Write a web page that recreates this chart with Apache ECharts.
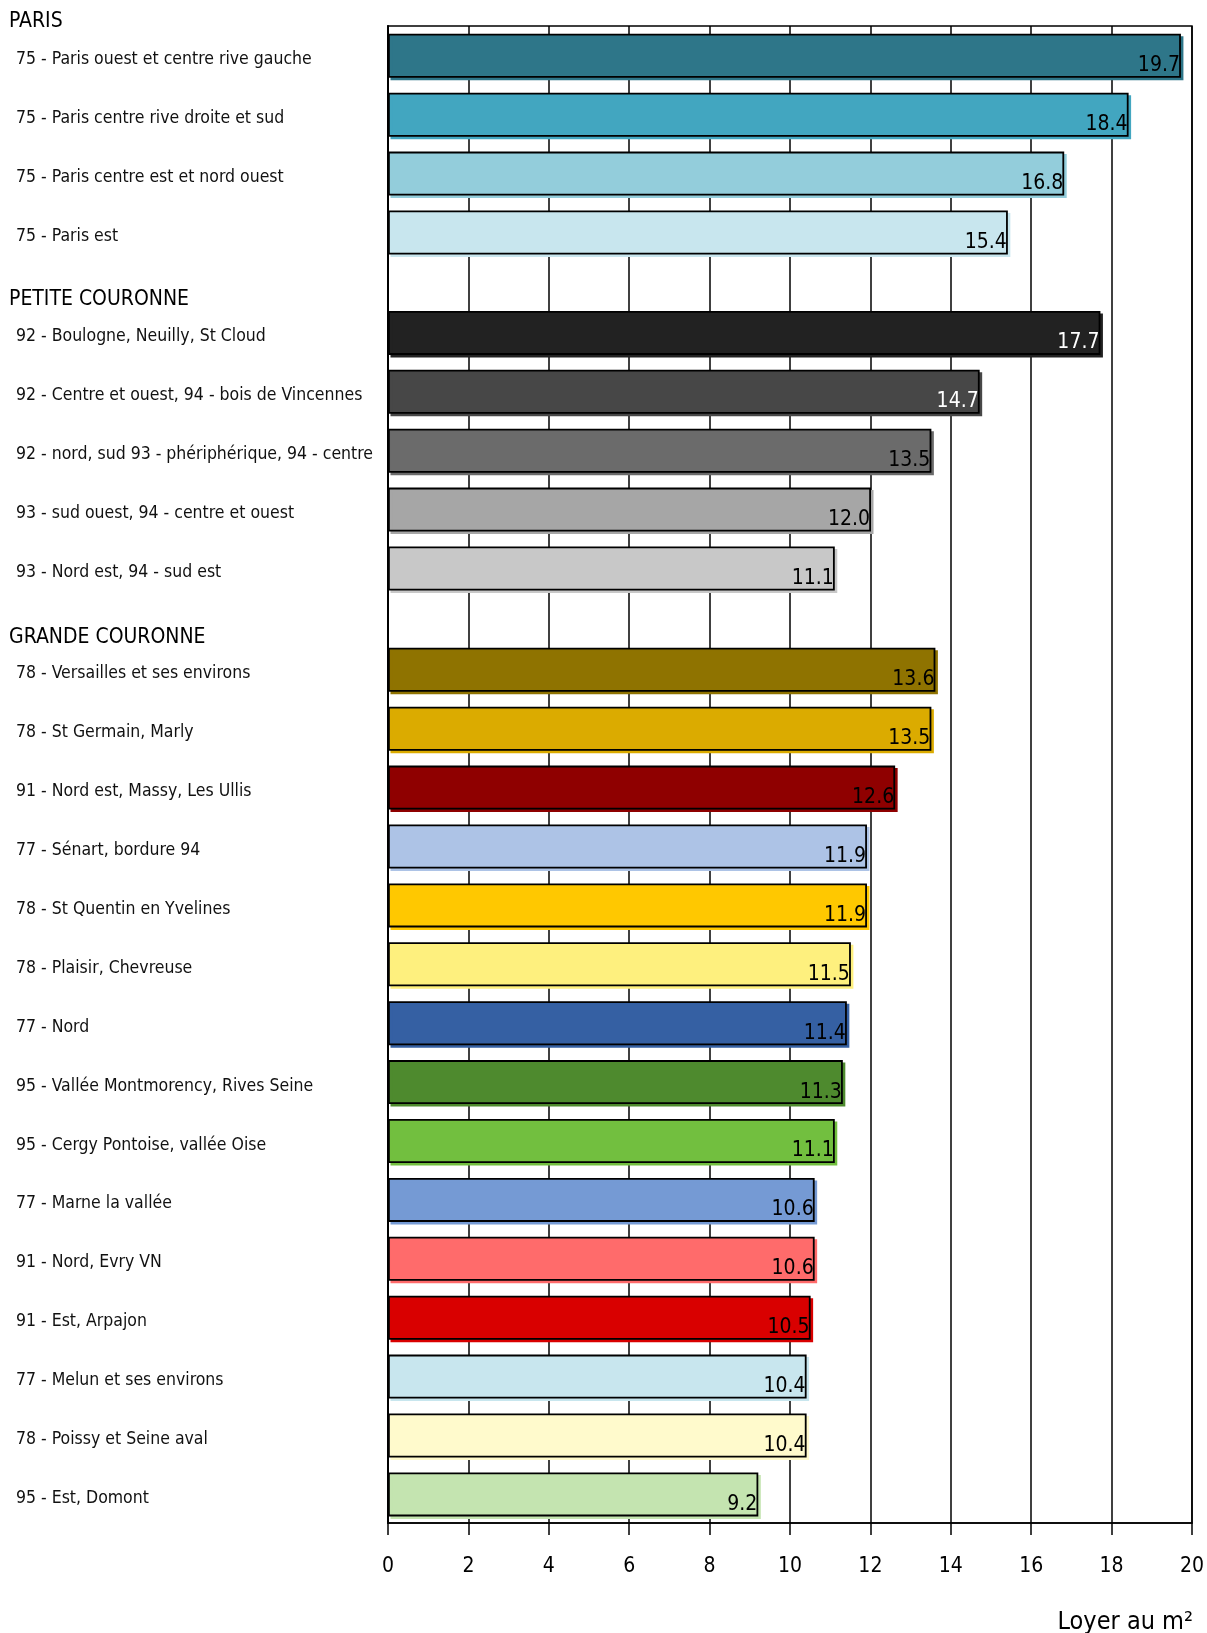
<!DOCTYPE html>
<html>
<head>
<meta charset="utf-8">
<script src="https://cdn.jsdelivr.net/npm/echarts@6/dist/echarts.min.js"></script>
<style>
  html, body { margin: 0; padding: 0; background: #fff; }
  #chart { width: 1207px; height: 1633px; }
</style>
</head>
<body>
<div id="chart"></div>
<script>
// données : loyer au m² par secteur
var parisLabels = [
  "75 - Paris ouest et centre rive gauche",
  "75 - Paris centre rive droite et sud",
  "75 - Paris centre est et nord ouest",
  "75 - Paris est"
];
var parisValues = [19.7, 18.4, 16.8, 15.4];

var petiteLabels = [
  "92 - Boulogne, Neuilly, St Cloud",
  "92 - Centre et ouest, 94 - bois de Vincennes",
  "92 - nord, sud 93 - phériphérique, 94 - centre",
  "93 - sud ouest, 94 - centre et ouest",
  "93 - Nord est, 94 - sud est"
];
var petiteValues = [17.7, 14.7, 13.5, 12.0, 11.1];

var grandeLabels = [
  "78 - Versailles et ses environs",
  "78 - St Germain, Marly",
  "91 - Nord est, Massy, Les Ullis",
  "77 - Sénart, bordure 94",
  "78 - St Quentin en Yvelines",
  "78 - Plaisir, Chevreuse",
  "77 - Nord",
  "95 - Vallée Montmorency, Rives Seine",
  "95 - Cergy Pontoise, vallée Oise",
  "77 - Marne la vallée",
  "91 - Nord, Evry VN",
  "91 - Est, Arpajon",
  "77 - Melun et ses environs",
  "78 - Poissy et Seine aval",
  "95 - Est, Domont"
];
var grandeValues = [13.6, 13.5, 12.6, 11.9, 11.9, 11.5, 11.4, 11.3, 11.1, 10.6, 10.6, 10.5, 10.4, 10.4, 9.2];

var groupNames = ["PARIS", "PETITE COURONNE", "GRANDE COURONNE"];
var xMin = 0, xMax = 20, xStep = 2;

// couleurs
var parisColors = ["#2e7689", "#42a6c0", "#93cddb", "#c8e6ee"];
var petiteColors = ["#222222", "#474747", "#6b6b6b", "#a6a6a6", "#c8c8c8"];
var grandeColors = ["#8f7300", "#dbab00", "#8f0000", "#adc3e6", "#ffc800", "#fef07e",
  "#3560a3", "#4e8a2e", "#72bf3f", "#759ad4", "#ff6b6b", "#d90000", "#c8e6ee", "#fffacc", "#c4e4b0"];
var petiteLabelColors = ["#fff", "#fff", "#000", "#000", "#000"];

var FONT = "'Liberation Sans Narrow', 'DejaVu Sans Condensed', 'Arial Narrow', sans-serif";
var LEFT = 388, RIGHT = 14;
var SLOT = 58.9;
var tops = [26.35, 303.45, 640.35];

var groups = [
  { labels: parisLabels, values: parisValues, colors: parisColors },
  { labels: petiteLabels, values: petiteValues, colors: petiteColors, labelColors: petiteLabelColors },
  { labels: grandeLabels, values: grandeValues, colors: grandeColors }
];

var myChart = echarts.init(document.getElementById("chart"), null, { renderer: "canvas" });

var grid = [{
  left: LEFT, right: RIGHT, top: 26, bottom: 110,
  show: true, borderColor: "#000", borderWidth: 1.5, backgroundColor: "transparent"
}];
var xAxis = [{
  gridIndex: 0, type: "value", min: xMin, max: xMax, interval: xStep,
  axisLine: { show: true, lineStyle: { color: "#000", width: 1.5 } },
  axisTick: { show: true, length: 12, lineStyle: { color: "#000", width: 1.5 } },
  splitLine: { show: true, lineStyle: { color: "#000", width: 1.5 } },
  axisLabel: { color: "#000", fontSize: 21, fontFamily: FONT, margin: 33 }
}];
var yAxis = [{
  gridIndex: 0, type: "category", data: [""],
  axisLine: { show: true, lineStyle: { color: "#000", width: 2 } },
  axisTick: { show: false }, axisLabel: { show: false }
}];
var series = [];

groups.forEach(function (g, i) {
  var gi = i + 1;
  grid.push({ left: LEFT, right: RIGHT, top: tops[i], height: g.labels.length * SLOT });
  xAxis.push({ gridIndex: gi, type: "value", min: xMin, max: xMax, show: false });
  yAxis.push({
    gridIndex: gi, type: "category", inverse: true, data: g.labels,
    axisLine: { show: false }, axisTick: { show: false }, splitLine: { show: false },
    axisLabel: {
      interval: 0, align: "left", margin: LEFT - 16,
      color: "#111", fontSize: 17.5, fontFamily: FONT,
      verticalAlign: "top", lineHeight: 8
    }
  });
  series.push({
    type: "bar", xAxisIndex: gi, yAxisIndex: gi, barWidth: 44,
    data: g.values.map(function (v, k) {
      return {
        value: v,
        itemStyle: { color: g.colors[k], shadowColor: g.colors[k] },
        label: { color: g.labelColors ? g.labelColors[k] : "#000" }
      };
    }),
    itemStyle: {
      borderColor: "#000", borderWidth: 1.8,
      shadowBlur: 0, shadowOffsetX: 2.5, shadowOffsetY: 2.5
    },
    label: {
      show: true, position: "insideRight", distance: 1, offset: [0, 10],
      fontSize: 21, fontFamily: FONT,
      formatter: function (p) { return p.value.toFixed(1); }
    }
  });
});

var headerY = [24, 302, 640];
var graphic = groupNames.map(function (name, i) {
  return {
    type: "text", left: 9, top: headerY[i] - 13,
    style: { text: name, fill: "#000", fontSize: 21, fontFamily: FONT }
  };
});
graphic.push({
  type: "text", right: 14, top: 1610,
  style: { text: "Loyer au m²", fill: "#000", fontSize: 25, fontFamily: FONT }
});

var option = {
  animation: false,
  backgroundColor: "#fff",
  grid: grid,
  xAxis: xAxis,
  yAxis: yAxis,
  series: series,
  graphic: graphic
};
myChart.setOption(option);
</script>
</body>
</html>
